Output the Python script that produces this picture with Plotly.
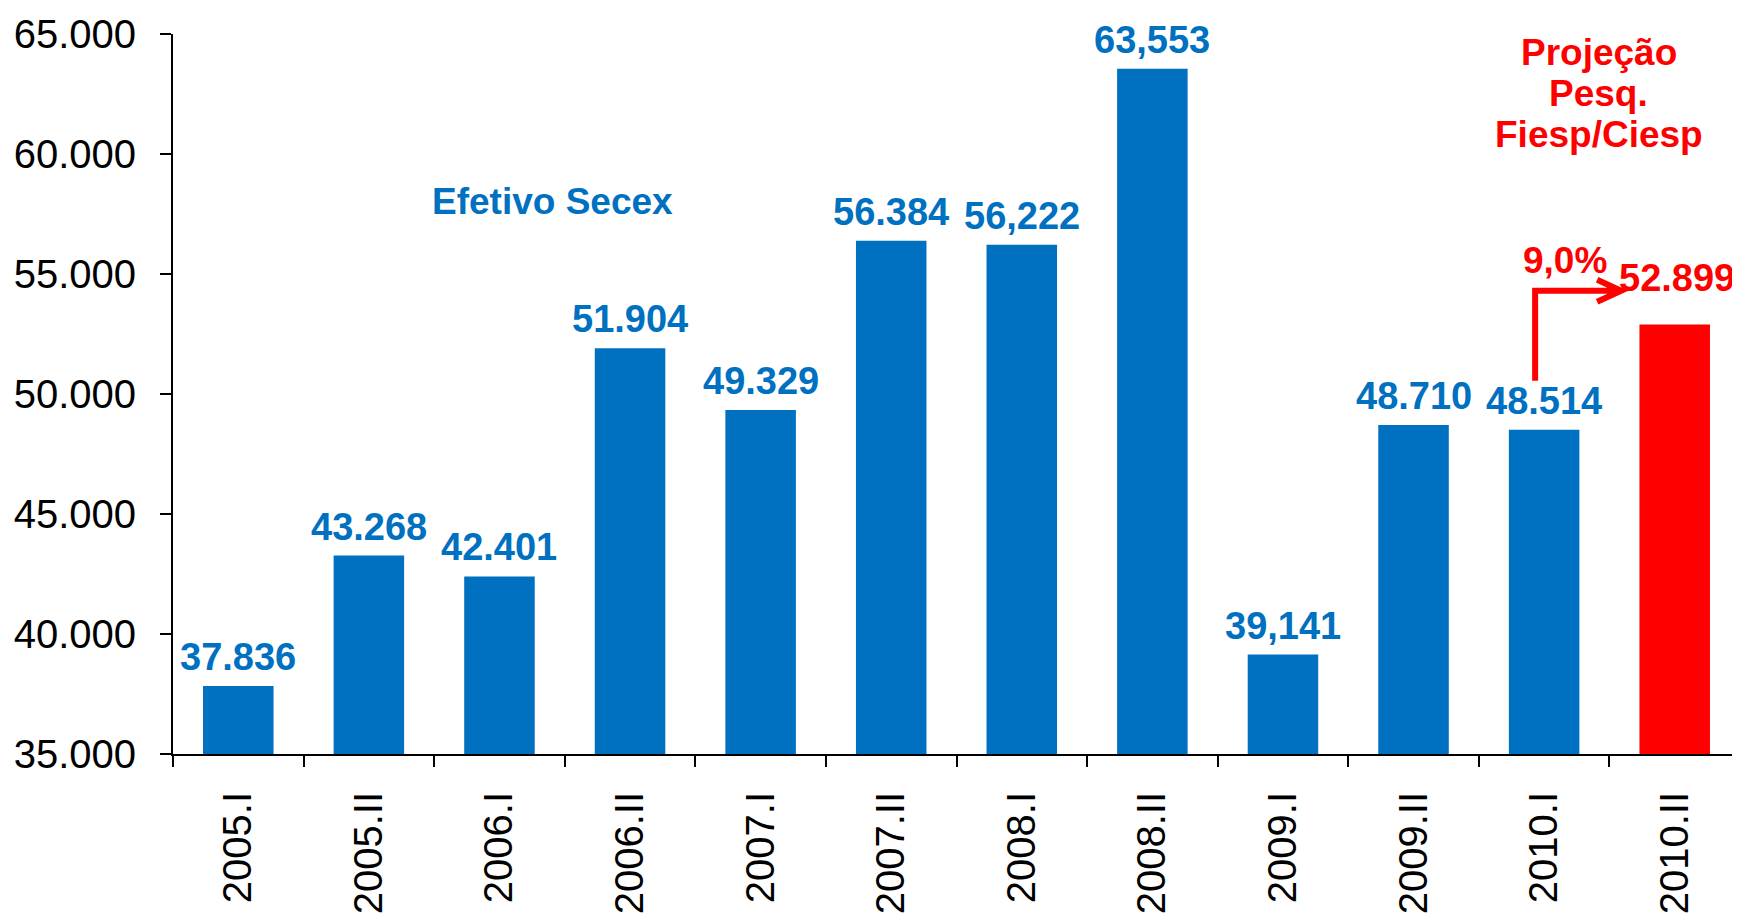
import plotly.graph_objects as go

categories = ["2005.I", "2005.II", "2006.I", "2006.II", "2007.I", "2007.II",
              "2008.I", "2008.II", "2009.I", "2009.II", "2010.I", "2010.II"]
values = [37836, 43268, 42401, 51904, 49329, 56384,
          56222, 63553, 39141, 48710, 48514, 52899]
value_labels = ["37.836", "43.268", "42.401", "51.904", "49.329", "56.384",
                "56,222", "63,553", "39,141", "48.710", "48.514", "52.899"]
is_projection = [False] * 11 + [True]
y_tick_vals = [35000, 40000, 45000, 50000, 55000, 60000, 65000]
y_tick_text = ["35.000", "40.000", "45.000", "50.000", "55.000", "60.000", "65.000"]
growth_label = "9,0%"
actual_label = "Efetivo Secex"
projection_lines = ["Projeção", "Pesq.", "Fiesp/Ciesp"]

BLUE = "#0070C0"
RED = "#FF0000"
FONT = "Liberation Sans, Arial, sans-serif"

colors = [RED if p else BLUE for p in is_projection]

fig = go.Figure()
fig.add_trace(go.Bar(x=categories, y=values, marker=dict(color=colors, line=dict(width=0)),
                     hoverinfo="x+y"))

annotations = []
for cat, v, lab, p in zip(categories, values, value_labels, is_projection):
    annotations.append(dict(
        x=cat, y=v, xref="x", yref="y", text="<b>%s</b>" % lab, showarrow=False,
        yanchor="bottom", xanchor="center",
        xshift=2 if p else 0, yshift=23 if p else 6,
        font=dict(family=FONT, size=38, color=RED if p else BLUE)))

# growth label above 2010.I
annotations.append(dict(
    x=categories[10], y=values[10], xref="x", yref="y", text="<b>%s</b>" % growth_label,
    showarrow=False, yanchor="bottom", xanchor="center", xshift=21, yshift=147,
    font=dict(family=FONT, size=37, color=RED)))

annotations.append(dict(
    x=0.242, y=0.768, xref="paper", yref="paper", text="<b>%s</b>" % actual_label,
    showarrow=False, xanchor="center", yanchor="middle",
    font=dict(family=FONT, size=37, color=BLUE)))

for i, line in enumerate(projection_lines):
    annotations.append(dict(
        x=0.910, y=0.975 - i * 0.057, xref="paper", yref="paper", text="<b>%s</b>" % line,
        showarrow=False, xanchor="center", yanchor="middle",
        font=dict(family=FONT, size=37, color=RED)))

shapes = [dict(
    type="path", xref="x", yref="y", xsizemode="pixel", ysizemode="pixel",
    xanchor=categories[10], yanchor=values[10],
    path="M -9,49 L -9,139 L 76,139 M 53,150 L 77,139 L 53,128",
    line=dict(color=RED, width=6), layer="above")]

# page body has an 8px margin: size the figure so the plot lands where the reference has it
fig.update_layout(
    width=1732, height=911,
    margin=dict(l=165, r=0, t=26, b=165),
    plot_bgcolor="white", paper_bgcolor="white",
    showlegend=False, bargap=0.46,
    font=dict(family=FONT, color="black"),
    annotations=annotations, shapes=shapes,
    xaxis=dict(type="category", showline=True, linecolor="black", linewidth=2,
               ticks="outside", tickson="boundaries", ticklen=11, tickwidth=2, tickcolor="black",
               tickangle=-90, tickfont=dict(family=FONT, size=40, color="black"),
               ticklabelstandoff=20, showgrid=False, zeroline=False),
    yaxis=dict(range=[35000, 65000], showline=True, linecolor="black", linewidth=2,
               ticks="outside", ticklen=11, tickwidth=2, tickcolor="black",
               tickvals=y_tick_vals, ticktext=y_tick_text,
               tickfont=dict(family=FONT, size=40, color="black"),
               ticklabelstandoff=16, showgrid=False, zeroline=False),
)

fig.write_html("out.html")
